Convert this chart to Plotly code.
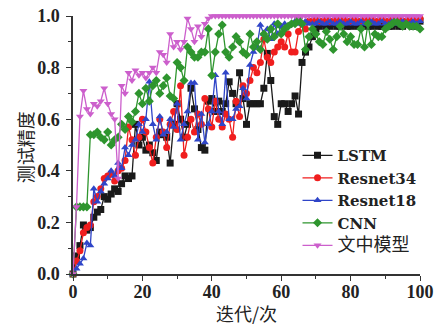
import plotly.graph_objects as go

iterations = list(range(0, 101))

lstm = [0.00, 0.07, 0.11, 0.19, 0.17, 0.18, 0.22, 0.24, 0.25, 0.30,
        0.29, 0.31, 0.33, 0.32, 0.35, 0.38, 0.37, 0.38, 0.58, 0.50,
        0.53, 0.48, 0.50, 0.47, 0.44, 0.55, 0.54, 0.53, 0.43, 0.58,
        0.66, 0.60, 0.53, 0.58, 0.72, 0.64, 0.56, 0.49, 0.48, 0.67,
        0.68, 0.63, 0.67, 0.63, 0.66, 0.745, 0.70, 0.66, 0.78, 0.68,
        0.58, 0.66, 0.66, 0.66, 0.66, 0.72, 0.855, 0.75, 0.61, 0.58,
        0.66, 0.66, 0.63, 0.66, 0.69, 0.62, 0.82, 0.86, 0.88, 0.92,
        0.95, 0.96, 0.97, 0.96, 0.96, 0.97, 0.96, 0.96, 0.97, 0.96,
        0.96, 0.97, 0.96, 0.96, 0.97, 0.96, 0.96, 0.97, 0.96, 0.96,
        0.97, 0.96, 0.96, 0.97, 0.96, 0.96, 0.97, 0.97, 0.96, 0.97, 0.98]

resnet34 = [0.00, 0.05, 0.09, 0.16, 0.18, 0.19, 0.28, 0.30, 0.33, 0.37,
            0.38, 0.39, 0.36, 0.40, 0.41, 0.44, 0.57, 0.52, 0.46, 0.53,
            0.60, 0.55, 0.49, 0.43, 0.53, 0.60, 0.55, 0.49, 0.58, 0.63,
            0.56, 0.73, 0.46, 0.53, 0.60, 0.55, 0.62, 0.58, 0.68, 0.64,
            0.57, 0.67, 0.60, 0.57, 0.62, 0.60, 0.53, 0.67, 0.61, 0.73,
            0.70, 0.75, 0.80, 0.78, 0.82, 0.91, 0.84, 0.82, 0.86, 0.88,
            0.90, 0.88, 0.93, 0.86, 0.86, 0.94, 0.97, 0.95, 0.98, 0.98,
            0.99, 0.98, 0.98, 0.99, 0.98, 0.98, 0.99, 0.98, 0.99, 0.98,
            0.98, 0.99, 0.98, 0.98, 0.99, 0.98, 0.99, 0.98, 0.98, 0.99,
            0.98, 0.98, 0.99, 0.98, 0.99, 0.98, 0.98, 0.99, 0.98, 0.99, 0.99]

resnet18 = [0.00, 0.02, 0.04, 0.06, 0.12, 0.11, 0.33, 0.28, 0.32, 0.35,
            0.37, 0.40, 0.38, 0.43, 0.41, 0.49, 0.46, 0.50, 0.52, 0.58,
            0.55, 0.60, 0.745, 0.58, 0.52, 0.61, 0.54, 0.55, 0.60, 0.57,
            0.66, 0.52, 0.58, 0.63, 0.74, 0.74, 0.52, 0.62, 0.51, 0.58,
            0.63, 0.77, 0.63, 0.58, 0.78, 0.60, 0.60, 0.64, 0.65, 0.72,
            0.68, 0.81, 0.86, 0.88, 0.965, 0.93, 0.95, 0.91, 0.97, 0.93,
            0.96, 0.97, 0.96, 0.97, 0.98, 0.97, 0.97, 0.98, 0.97, 0.97,
            0.97, 0.98, 0.97, 0.97, 0.98, 0.97, 0.97, 0.98, 0.97, 0.97,
            0.98, 0.97, 0.97, 0.98, 0.97, 0.97, 0.98, 0.97, 0.97, 0.98,
            0.97, 0.97, 0.98, 0.97, 0.97, 0.98, 0.97, 0.97, 0.98, 0.97, 0.98]

cnn = [0.00, 0.26, 0.26, 0.26, 0.26, 0.54, 0.54, 0.55, 0.53, 0.52,
       0.55, 0.50, 0.52, 0.53, 0.58, 0.56, 0.61, 0.59, 0.63, 0.70,
       0.66, 0.72, 0.67, 0.73, 0.75, 0.70, 0.73, 0.76, 0.69, 0.68,
       0.82, 0.80, 0.75, 0.88, 0.86, 0.84, 0.84, 0.86, 0.86, 0.95,
       0.77, 0.86, 0.93, 0.965, 0.86, 0.84, 0.88, 0.92, 0.90, 0.86,
       0.85, 0.93, 0.88, 0.90, 0.87, 0.93, 0.91, 0.95, 0.92, 0.97,
       0.93, 0.95, 0.96, 0.97, 0.97, 0.99, 0.97, 0.87, 0.92, 0.95,
       0.93, 0.90, 0.89, 0.94, 0.91, 0.87, 0.92, 0.96, 0.93, 0.90,
       0.92, 0.89, 0.89, 0.95, 0.88, 0.97, 0.89, 0.93, 0.92, 0.92,
       0.95, 0.96, 0.97, 0.98, 0.97, 0.96, 0.97, 0.96, 0.96, 0.96, 0.95]

proposed = [0.00, 0.26, 0.61, 0.71, 0.64, 0.62, 0.66, 0.65, 0.67, 0.72,
            0.66, 0.62, 0.60, 0.37, 0.73, 0.70, 0.78, 0.75, 0.79, 0.77,
            0.78, 0.76, 0.78, 0.80, 0.78, 0.86, 0.85, 0.82, 0.93, 0.88,
            0.90, 0.87, 0.90, 0.99, 0.95, 0.90, 0.96, 0.92, 0.97, 0.99] + [1.0] * 61

x_ticks = [0, 20, 40, 60, 80, 100]
y_ticks = [0.0, 0.2, 0.4, 0.6, 0.8, 1.0]
y_tick_labels = ["0.0", "0.2", "0.4", "0.6", "0.8", "1.0"]
x_title = "迭代/次"
y_title = "测试精度"

series = [
    ("<b>LSTM</b>", lstm, "#1a1a1a", "square"),
    ("<b>Resnet34</b>", resnet34, "#f01e1e", "circle"),
    ("<b>Resnet18</b>", resnet18, "#2f45c8", "triangle-up"),
    ("<b>CNN</b>", cnn, "#2e952e", "diamond"),
    ('<span style="font-size:18px">文中模型</span>', proposed, "#cc5fcc", "triangle-down"),
]

fig = go.Figure()
for name, vals, color, sym in series:
    fig.add_trace(go.Scatter(
        x=iterations, y=vals, name=name, mode="lines+markers",
        line=dict(color=color, width=1.3),
        marker=dict(symbol=sym, size=7, color=color),
        cliponaxis=False,
    ))

tick_font = dict(family="Liberation Serif", size=18, color="#222", weight="bold")
title_font = dict(family="Noto Sans CJK SC", size=18, color="#222")

fig.update_layout(
    width=439, height=326,
    margin=dict(l=73, r=19, t=16, b=52, autoexpand=False),
    plot_bgcolor="white", paper_bgcolor="white",
    showlegend=True,
    legend=dict(
        x=0.647, y=0.523, xanchor="left", yanchor="top",
        bgcolor="rgba(0,0,0,0)",
        font=dict(family="DejaVu Serif, Noto Sans CJK SC", size=15, color="#222"),
        tracegroupgap=0, itemwidth=30,
    ),
    xaxis=dict(
        range=[0, 100], tickvals=x_ticks,
        ticks="outside", ticklen=5, tickwidth=1.3, tickcolor="#333",
        minor=dict(tickvals=[10, 30, 50, 70, 90], ticks="outside", ticklen=3, tickwidth=1.2, tickcolor="#333"),
        showline=True, linecolor="#333", linewidth=1.5,
        showgrid=False, zeroline=False, automargin=False,
        tickfont=tick_font, ticklabelstandoff=-4, ticklabeloverflow="allow",
    ),
    yaxis=dict(
        range=[0, 1.0], tickvals=y_ticks, ticktext=y_tick_labels,
        ticks="outside", ticklen=5, tickwidth=1.3, tickcolor="#333",
        minor=dict(tickvals=[0.1, 0.3, 0.5, 0.7, 0.9], ticks="outside", ticklen=3, tickwidth=1.2, tickcolor="#333"),
        showline=True, linecolor="#333", linewidth=1.5,
        showgrid=False, zeroline=False, automargin=False,
        tickfont=tick_font, ticklabelstandoff=3, ticklabeloverflow="allow",
    ),
    annotations=[
        dict(text=x_title, xref="paper", yref="paper", x=0.501, y=-0.151,
             xanchor="center", yanchor="middle", showarrow=False, font=title_font),
        dict(text=y_title, xref="paper", yref="paper", x=-0.138, y=0.492,
             xanchor="center", yanchor="middle", showarrow=False, font=title_font,
             textangle=-90),
    ],
)

# remove the browser's default 8px body margin so the figure fills the window
fig.write_html("out.html", config={"displayModeBar": False},
               post_script="document.body.style.margin='0';")
